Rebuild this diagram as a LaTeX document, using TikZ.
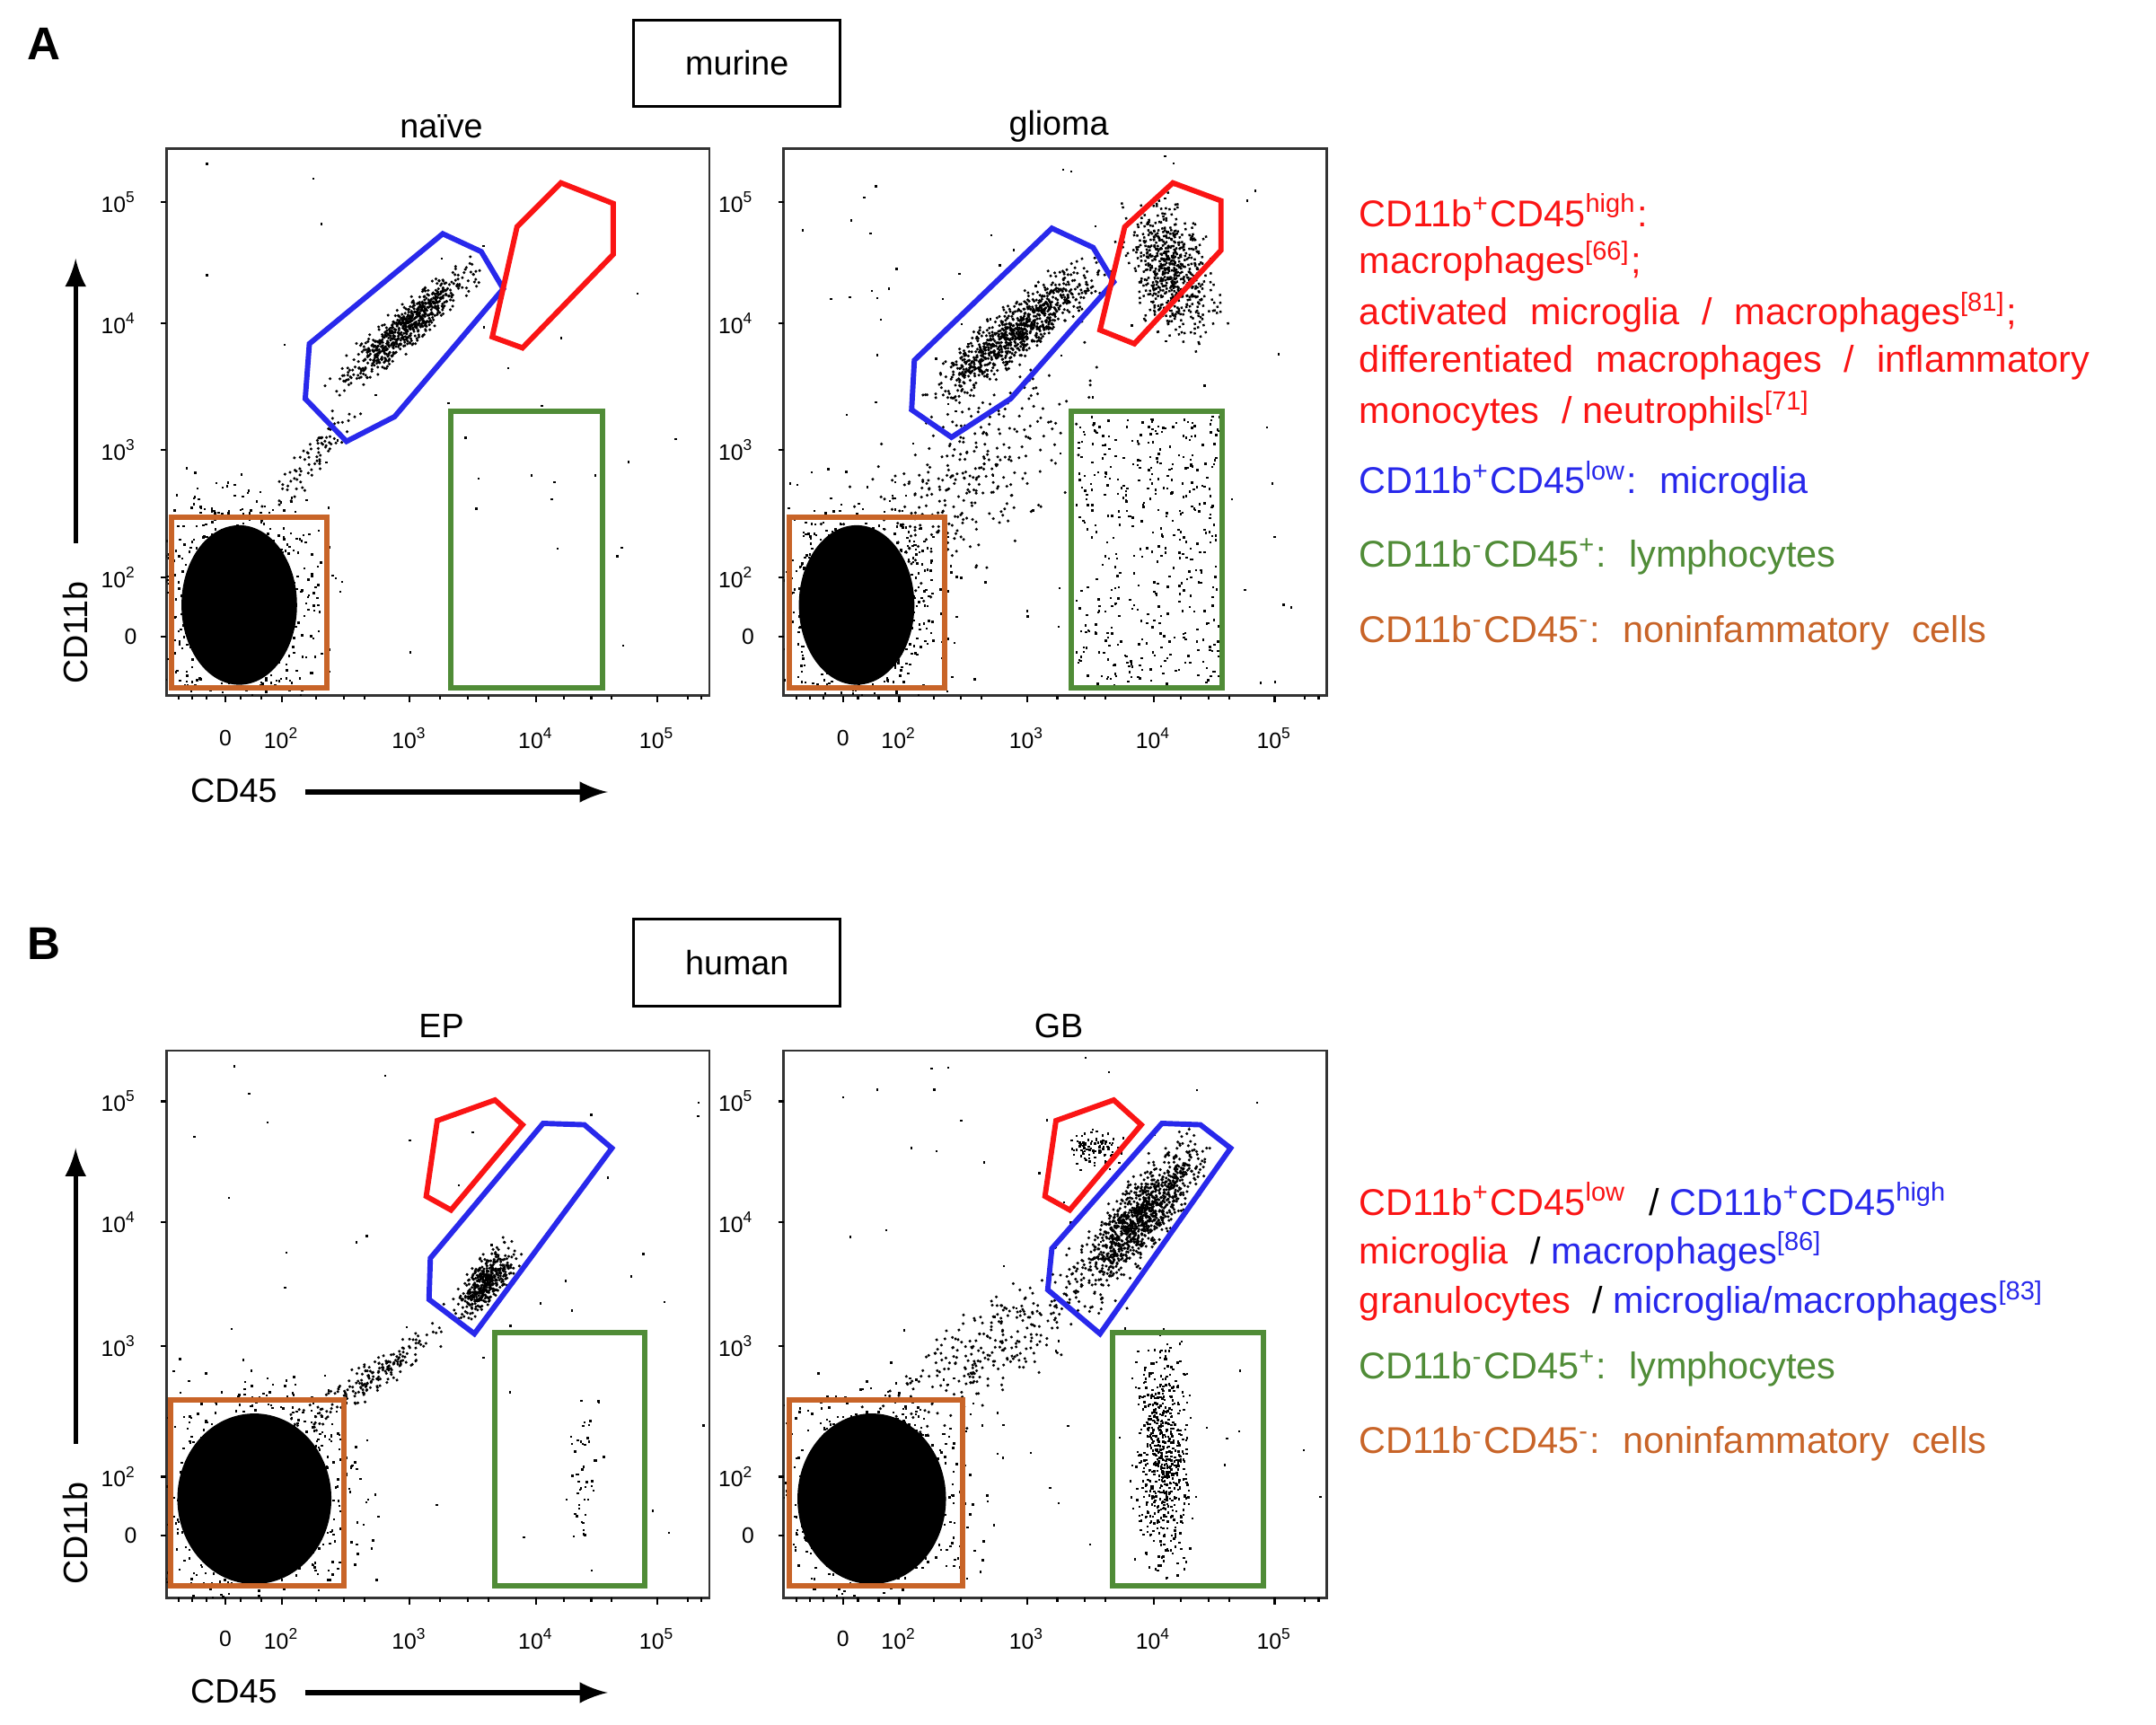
\documentclass[tikz,border=0pt]{standalone}
\usepackage{fontspec}
\setmainfont{Liberation Sans}
\definecolor{gred}{RGB}{250,20,20}
\definecolor{gblue}{RGB}{40,40,235}
\definecolor{ggreen}{RGB}{80,140,55}
\definecolor{gorange}{RGB}{200,100,40}
\newcommand\cloud[6]{%
 \foreach \i in {1,...,#1}{\pgfmathsetmacro\ua{(rand+rand+rand)/3*#4}\pgfmathsetmacro\ub{(rand+rand+rand)/3*#5}%
 \fill[shift={(#2,#3)},rotate=#6] (\ua,\ub) rectangle ++(1.6,1.6);}}
\newcommand\uni[5]{%
 \foreach \i in {1,...,#1}{\pgfmathsetmacro\ua{#2+rnd*(#4-#2)}\pgfmathsetmacro\ub{#3+rnd*(#5-#3)}%
 \fill (\ua,\ub) rectangle ++(1.6,1.6);}}
\newcommand\spx[1]{\textsuperscript{#1}}
\newcommand\wsp{\hspace{0.6em}}
\begin{document}
\begin{tikzpicture}[x=0.01cm,y=-0.01cm,
 frame/.style={draw=black!80,line width=0.5pt},
 gate/.style={line width=1.1pt},
 tick/.style={font=\fontsize{4.6}{5}\selectfont},
 ttl/.style={font=\fontsize{7}{8}\selectfont},
 leg/.style={font=\fontsize{7.7}{8}\selectfont,anchor=west,inner sep=0pt},
 hbox/.style={draw,line width=0.6pt,minimum width=1.5cm,minimum height=0.63cm,font=\fontsize{7}{8}\selectfont}]
\pgfmathsetseed{7}
\useasboundingbox (0,0) rectangle (1568,1254);
% ---------- Panel A ----------
\node[font=\bfseries\fontsize{9.5}{10}\selectfont] (lA) at (32,32) {A};
\node[hbox] (murine) at (536,46) {murine};
\foreach \ox/\ttxt/\nm in {0/naïve/a1,449/glioma/a2}{
 \begin{scope}[xshift=\ox*0.01cm]
 \node[ttl] (t\nm) at (321,92) {\ttxt};
 \draw[frame] (121,108) rectangle (516,506);
 \foreach \yy/\lab in {147/10\spx{5},235/10\spx{4},327/10\spx{3},420/10\spx{2},463/0}{
  \node[tick,anchor=east] at (112,\yy) {\lab}; \draw (117,\yy)--(121,\yy);}
 \foreach \xx/\lab in {164/0,205/10\spx{2},298/10\spx{3},390/10\spx{4},478/10\spx{5}}{
  \node[tick] at (\xx,537) {\lab}; \draw (\xx,506)--(\xx,511);}
 \foreach \xx in {130,140,150,175,190,230,250,265,320,340,355,410,430,445,500,510}{\draw (\xx,506)--(\xx,509);}
 \end{scope}}
% naive dots
\begin{scope}
\clip (121,108) rectangle (516,506);
\fill (174,440) ellipse[x radius=0.42cm,y radius=0.58cm];
\cloud{900}{174}{436}{85}{110}{0}
\cloud{700}{294}{238}{85}{18}{42}
\cloud{80}{228}{330}{60}{16}{50}
\uni{30}{125}{112}{512}{500}
\end{scope}
% glioma dots
\begin{scope}
\clip (570,108) rectangle (966,506);
\fill (623,440) ellipse[x radius=0.42cm,y radius=0.58cm];
\cloud{900}{623}{436}{85}{110}{0}
\cloud{900}{740}{240}{100}{24}{38}
\cloud{650}{850}{195}{38}{65}{15}
\uni{400}{782}{302}{886}{498}
\cloud{350}{700}{350}{160}{70}{40}
\uni{100}{575}{112}{962}{500}
\end{scope}
\draw[gate,gblue] (225,250)--(222,290)--(252,321)--(287,303)--(366,210)--(350,183)--(322,170)--cycle;
\draw[gate,gred] (358,245)--(380,253)--(446,185)--(446,148)--(408,133)--(376,165)--cycle;
\draw[gate,ggreen] (328,299) rectangle (438,500);
\draw[gate,gorange] (125,376) rectangle (238,500);
\draw[gate,gblue] (665,262)--(663,298)--(692,318)--(735,290)--(810,205)--(795,180)--(765,166)--cycle;
\draw[gate,gred] (800,240)--(825,250)--(888,182)--(888,146)--(853,133)--(818,165)--cycle;
\draw[gate,ggreen] (779,299) rectangle (889,500);
\draw[gate,gorange] (574,376) rectangle (687,500);
% axes labels A
\node[ttl,rotate=90] (yA) at (55,460) {CD11b};
\coordinate (yA1) at (55,395); \coordinate (yA2) at (55,188);
\draw[-latex,line width=1pt] (yA1)--(yA2);
\node[ttl] (xA) at (170,575) {CD45};
\coordinate (xA1) at (222,576); \coordinate (xA2) at (442,576);
\draw[-latex,line width=1pt] (xA1)--(xA2);
% legend A
\node[leg,gred] (la1) at (988,153) {CD11b\spx{+}CD45\spx{high}:};
\node[leg,gred] (la2) at (988,190) {macrophages\spx{[66]};};
\node[leg,gred] (la3) at (988,227) {activated\wsp microglia\wsp /\wsp macrophages\spx{[81]};};
\node[leg,gred] (la4) at (988,264) {differentiated\wsp macrophages\wsp /\wsp inflammatory};
\node[leg,gred] (la5) at (988,299) {monocytes\wsp /\ neutrophils\spx{[71]}};
\node[leg,gblue] (la6) at (988,350) {CD11b\spx{+}CD45\spx{low}:\wsp microglia};
\node[leg,ggreen] (la7) at (988,405) {CD11b\spx{-}CD45\spx{+}:\wsp lymphocytes};
\node[leg,gorange] (la8) at (988,460) {CD11b\spx{-}CD45\spx{-}:\wsp noninfammatory\wsp cells};
% ---------- Panel B ----------
\node[font=\bfseries\fontsize{9.5}{10}\selectfont] (lB) at (32,686) {B};
\node[hbox] (human) at (536,700) {human};
\foreach \ox/\ttxt/\nm in {0/EP/b1,449/GB/b2}{
 \begin{scope}[xshift=\ox*0.01cm]
 \node[ttl] (t\nm) at (321,746) {\ttxt};
 \draw[frame] (121,764) rectangle (516,1162);
 \foreach \yy/\lab in {801/10\spx{5},889/10\spx{4},979/10\spx{3},1074/10\spx{2},1117/0}{
  \node[tick,anchor=east] at (112,\yy) {\lab}; \draw (117,\yy)--(121,\yy);}
 \foreach \xx/\lab in {164/0,205/10\spx{2},298/10\spx{3},390/10\spx{4},478/10\spx{5}}{
  \node[tick] at (\xx,1192) {\lab}; \draw (\xx,1162)--(\xx,1167);}
 \foreach \xx in {130,140,150,175,190,230,250,265,320,340,355,410,430,445,500,510}{\draw (\xx,1162)--(\xx,1165);}
 \end{scope}}
\begin{scope}
\clip (121,764) rectangle (516,1162);
\fill (185,1090) ellipse[x radius=0.56cm,y radius=0.62cm];
\cloud{1000}{187}{1086}{100}{110}{0}
\cloud{450}{352}{932}{40}{18}{50}
\cloud{200}{270}{1000}{95}{16}{35}
\cloud{50}{425}{1070}{20}{90}{0}
\uni{40}{125}{768}{512}{1158}
\end{scope}
\begin{scope}
\clip (570,764) rectangle (966,1162);
\fill (634,1090) ellipse[x radius=0.54cm,y radius=0.62cm];
\cloud{1000}{636}{1086}{98}{110}{0}
\cloud{1100}{828}{885}{90}{28}{50}
\cloud{100}{795}{835}{28}{22}{0}
\cloud{600}{845}{1060}{28}{110}{0}
\cloud{300}{720}{980}{130}{45}{35}
\uni{60}{575}{768}{962}{1158}
\end{scope}
\draw[gate,gred] (310,870)--(328,880)--(380,818)--(360,800)--(318,815)--cycle;
\draw[gate,gblue] (313,915)--(312,945)--(345,970)--(445,835)--(425,818)--(395,817)--cycle;
\draw[gate,ggreen] (360,969) rectangle (469,1153);
\draw[gate,gorange] (124,1018) rectangle (250,1153);
\draw[gate,gred] (760,870)--(778,880)--(830,818)--(810,800)--(768,815)--cycle;
\draw[gate,gblue] (765,908)--(762,938)--(800,970)--(895,835)--(873,818)--(845,817)--cycle;
\draw[gate,ggreen] (809,969) rectangle (919,1153);
\draw[gate,gorange] (574,1018) rectangle (700,1153);
\node[ttl,rotate=90] (yB) at (55,1115) {CD11b};
\coordinate (yB1) at (55,1050); \coordinate (yB2) at (55,835);
\draw[-latex,line width=1pt] (yB1)--(yB2);
\node[ttl] (xB) at (170,1230) {CD45};
\coordinate (xB1) at (222,1231); \coordinate (xB2) at (442,1231);
\draw[-latex,line width=1pt] (xB1)--(xB2);
\node[leg] (lb1) at (988,872) {\textcolor{gred}{CD11b\spx{+}CD45\spx{low}}\wsp /\ \textcolor{gblue}{CD11b\spx{+}CD45\spx{high}}};
\node[leg] (lb2) at (988,910) {\textcolor{gred}{microglia}\wsp /\ \textcolor{gblue}{macrophages\spx{[86]}}};
\node[leg] (lb3) at (988,946) {\textcolor{gred}{granulocytes}\wsp /\ \textcolor{gblue}{microglia/macrophages\spx{[83]}}};
\node[leg,ggreen] (lb4) at (988,995) {CD11b\spx{-}CD45\spx{+}:\wsp lymphocytes};
\node[leg,gorange] (lb5) at (988,1050) {CD11b\spx{-}CD45\spx{-}:\wsp noninfammatory\wsp cells};
\end{tikzpicture}
\end{document}
